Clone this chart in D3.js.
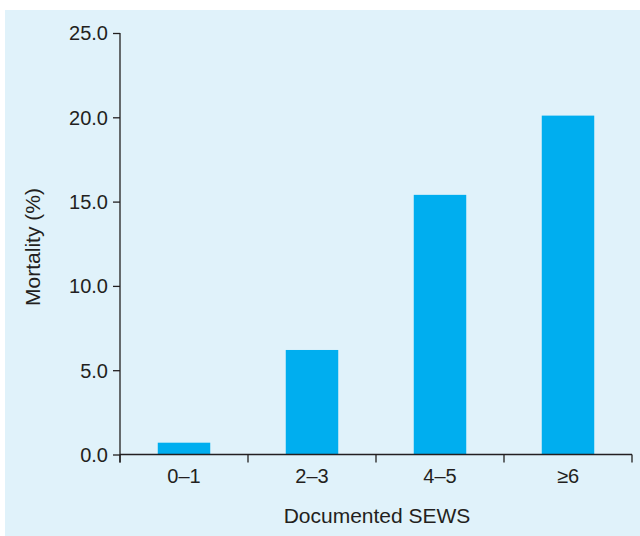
<!DOCTYPE html>
<html>
<head>
<meta charset="utf-8">
<script src="https://cdn.jsdelivr.net/npm/d3@7"></script>
<style>
  body { margin: 0; background: #fff; }
  text { font-family: "Liberation Sans", Arial, sans-serif; fill: #231f20; }
</style>
</head>
<body>
<svg id="chart"></svg>
<script>
var categories = ["0\u20131", "2\u20133", "4\u20135", "\u22656"];
var mortality = [0.7, 6.2, 15.4, 20.1];
var yTicks = [0, 5, 10, 15, 20, 25];

var width = 640, height = 536;

var svg = d3.select("#chart")
    .attr("width", width)
    .attr("height", height);

// light blue panel
svg.append("rect")
    .attr("x", 5)
    .attr("y", 10)
    .attr("width", width - 5)
    .attr("height", height - 10)
    .attr("fill", "#e0f2fa");

var xScale = d3.scaleBand()
    .domain(categories)
    .range([120, 632])
    .paddingInner(0.59)
    .paddingOuter(0.295);

var yScale = d3.scaleLinear()
    .domain([0, 25])
    .range([454.5, 33]);

svg.selectAll("rect.bar")
    .data(mortality)
    .enter().append("rect")
    .attr("class", "bar")
    .attr("x", function (d, i) { return xScale(categories[i]); })
    .attr("y", function (d) { return yScale(d); })
    .attr("width", xScale.bandwidth())
    .attr("height", function (d) { return yScale(0) - yScale(d); })
    .attr("fill", "#00aeef");

// y axis
var yAxis = svg.append("g")
    .attr("transform", "translate(120,0)")
    .call(d3.axisLeft(yScale).tickValues(yTicks).tickFormat(d3.format(".1f")).tickSize(7).tickSizeOuter(0));
yAxis.select(".domain").remove();
yAxis.append("line")
    .attr("x1", 0).attr("x2", 0)
    .attr("y1", yScale(25)).attr("y2", yScale(0) + 8)
    .attr("stroke", "#231f20")
    .attr("stroke-width", 1.3);
yAxis.selectAll(".tick line").attr("stroke", "#231f20").attr("stroke-width", 1.3);
yAxis.selectAll(".tick text")
    .attr("x", -12)
    .attr("dy", "0.34em")
    .attr("font-size", 20)
    .style("font-family", "Liberation Sans, Arial, sans-serif")
    .attr("fill", "#231f20");

// x axis: baseline with separator ticks pointing down
var edges = categories.map(function (c) { return xScale(c) - xScale.step() * xScale.paddingInner() / 2; });
edges.push(632);

svg.append("line")
    .attr("x1", 120).attr("x2", 632)
    .attr("y1", yScale(0)).attr("y2", yScale(0))
    .attr("stroke", "#231f20")
    .attr("stroke-width", 1.3);

svg.selectAll("line.sep")
    .data(edges)
    .enter().append("line")
    .attr("class", "sep")
    .attr("x1", function (d) { return d; })
    .attr("x2", function (d) { return d; })
    .attr("y1", yScale(0))
    .attr("y2", yScale(0) + 8)
    .attr("stroke", "#231f20")
    .attr("stroke-width", 1.3);

svg.selectAll("text.xlab")
    .data(categories)
    .enter().append("text")
    .attr("class", "xlab")
    .attr("x", function (d) { return xScale(d) + xScale.bandwidth() / 2; })
    .attr("y", 483)
    .attr("text-anchor", "middle")
    .attr("font-size", 20)
    .text(function (d) { return d; });

svg.append("text")
    .attr("x", 377)
    .attr("y", 523)
    .attr("text-anchor", "middle")
    .attr("font-size", 21)
    .text("Documented SEWS");

svg.append("text")
    .attr("transform", "translate(40,247) rotate(-90)")
    .attr("text-anchor", "middle")
    .attr("font-size", 21)
    .text("Mortality (%)");
</script>
</body>
</html>
